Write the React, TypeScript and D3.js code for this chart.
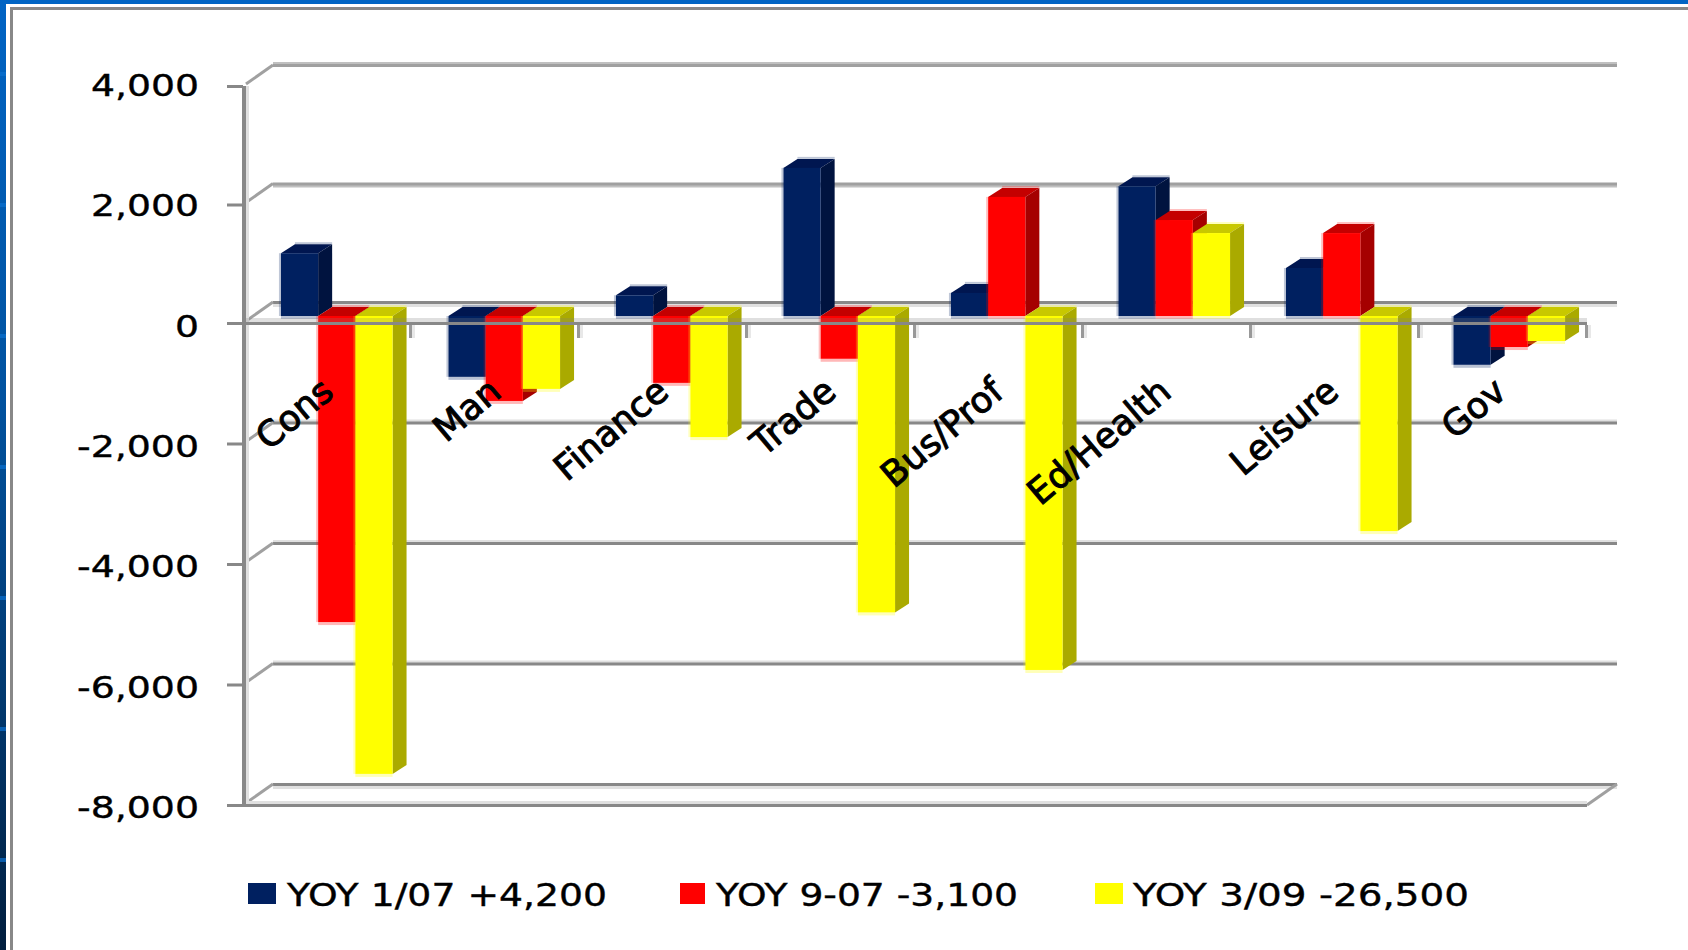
import React from "react";
import * as d3 from "d3";

const categories = ["Cons", "Man", "Finance", "Trade", "Bus/Prof", "Ed/Health", "Leisure", "Gov"];
const yoy107 = [1060, -1010, 350, 2500, 390, 2190, 810, -810];
const yoy907 = [-5080, -1410, -1110, -710, 2010, 1620, 1400, -515];
const yoy309 = [-7600, -1210, -2010, -4920, -5875, 1400, -3570, -415];
const seriesNames = ["YOY 1/07 +4,200", "YOY 9-07 -3,100", "YOY 3/09 -26,500"];
const yTicks = [4000, 2000, 0, -2000, -4000, -6000, -8000];
const stripeRows = [0, 1, 2, 3, 4, 5, 6, 7];

const palettes = [
  { front: "#002060", side: "#00133f", top: "#001650" },
  { front: "#ff0000", side: "#a50000", top: "#c40000" },
  { front: "#ffff00", side: "#aaaa00", top: "#c8c800" },
];
const seriesValues = [yoy107, yoy907, yoy309];

const FONT = "'DejaVu Sans', sans-serif";
const axisLeft = 243;
const axisRight = 1587;
const wallDx = 30;
const wallDy = -21;
const barDx = 10;
const barDy = -7;
const depthX = 14;
const depthY = -9;
const barWidth = 37.2;

const y = d3.scaleLinear().domain([-8000, 0, 4000]).range([805, 323, 86]);
const yLabel = d3.scaleLinear().domain([4000, -8000]).range([96, 818]);
const xBand = d3.scaleBand<string>().domain(categories).range([axisLeft, 1583]);
const xTick = d3.scaleBand<string>().domain(categories).range([axisLeft, axisRight]);
const xSeries = d3
  .scaleBand<number>()
  .domain([0, 1, 2])
  .range([0, barWidth * 3]);
const fmt = (v: number) => d3.format(",")(v).replace("\u2212", "-");

const legendLayout = [
  { sx: 248, sw: 28, tx: 287, tl: 320 },
  { sx: 680, sw: 25, tx: 716, tl: 302 },
  { sx: 1095, sw: 28, tx: 1133, tl: 336 },
];

function poly(points: [number, number][]) {
  return (d3.line()(points) || "") + "Z";
}

function Bar({ cat, s, value }: { cat: string; s: number; value: number }) {
  const p = palettes[s];
  const groupWidth = barWidth * 3;
  const x0 = (xBand(cat) as number) + (xBand.bandwidth() - groupWidth) / 2 + barDx + (xSeries(s) as number);
  const x1 = x0 + barWidth;
  const y0 = y(0) + barDy;
  const yv = y(value) + barDy;
  const top = Math.min(y0, yv);
  const bot = Math.max(y0, yv);
  return (
    <g>
      <rect x={x0} y={bot} width={barWidth} height={3} fill={p.front} opacity={0.28} />
      <path d={poly([[x0, top], [x0 + depthX, top + depthY], [x1 + depthX, top + depthY], [x1, top]])} fill={p.top} />
      <rect x={x0 + depthX} y={top + depthY - 2} width={barWidth} height={2} fill={p.front} opacity={0.25} />
      <path d={poly([[x1, top], [x1 + depthX, top + depthY], [x1 + depthX, bot + depthY], [x1, bot]])} fill={p.side} />
      <rect x={x0} y={top} width={barWidth} height={bot - top} fill={p.front} />
      <rect x={x0 - 2} y={top} width={2} height={bot - top} fill={p.front} opacity={0.25} />
    </g>
  );
}

export default function App() {
  return (
    <svg width={1688} height={950} style={{ position: "fixed", left: 0, top: 0, background: "#fff" }}>
      <defs>
        <linearGradient id="edge" x1="0" y1="0" x2="0" y2="1">
          <stop offset="0" stopColor="#0064c4" />
          <stop offset="0.42" stopColor="#00529f" />
          <stop offset="0.74" stopColor="#00386e" />
          <stop offset="1" stopColor="#001e3e" />
        </linearGradient>
      </defs>
      <rect x={0} y={0} width={1688} height={4} fill="#0064c4" />
      <rect x={0} y={0} width={6} height={950} fill="url(#edge)" />
      {stripeRows.map((i) => (
        <rect key={i} x={0} y={72 + i * 131} width={6} height={4} fill="#0a70d0" opacity={0.7} />
      ))}
      <rect x={10} y={7} width={1678} height={3} fill="#888" />
      <rect x={10} y={7} width={3} height={943} fill="#888" />

      {/* back wall grid */}
      {yTicks.map((t) => {
        const by = y(t) + wallDy;
        const upper = t > 0;
        const zero = t === 0;
        const dark = upper ? "#a0a0a0" : "#888";
        const pale = upper ? "#c0c0c0" : "#e0e0e0";
        const paleAbove = t === 4000 || (t < 0 && t > -8000);
        return (
          <g key={t}>
            <rect x={axisLeft + wallDx} y={paleAbove ? by - 3 : by + 1} width={axisRight - axisLeft} height={zero || t === -8000 ? 4 : 3} fill={pale} />
            <rect x={axisLeft + wallDx} y={by - 1} width={axisRight - axisLeft} height={3} fill={dark} />
            <line x1={axisLeft + 3} y1={y(t) - 2} x2={axisLeft + wallDx} y2={by} stroke="#a0a0a0" strokeWidth={3} />
          </g>
        );
      })}
      <line x1={axisRight} y1={y(-8000)} x2={axisRight + wallDx} y2={y(-8000) + wallDy} stroke="#a0a0a0" strokeWidth={3} />

      {/* left wall */}
      <rect x={axisLeft + 3} y={y(4000)} width={3} height={y(-8000) - y(4000)} fill="#e0e0e0" />
      <rect x={axisLeft - 1} y={y(4000)} width={4} height={y(-8000) - y(4000) + 1} fill="#888" />

      {/* bottom floor front edge */}
      <rect x={axisLeft + 3} y={y(-8000) - 4} width={axisRight - axisLeft - 3} height={3} fill="#e0e0e0" />
      <rect x={axisLeft - 16} y={y(-8000) - 1} width={axisRight - axisLeft + 16} height={3} fill="#888" />

      {/* value axis ticks */}
      {yTicks.map((t) => (
        <rect key={t} x={axisLeft - 16} y={y(t) - 1} width={16} height={3} fill="#888" />
      ))}

      {/* bars */}
      {categories.map((c, i) => (
        <g key={c}>
          {seriesValues.map((vals, s) => (
            <Bar key={s} cat={c} s={s} value={vals[i]} />
          ))}
        </g>
      ))}

      {/* zero line over bars */}
      <rect x={axisLeft + 3} y={y(0) - 5} width={axisRight - axisLeft - 3} height={4} fill="#808080" opacity={0.25} />
      <rect x={axisLeft - 16} y={y(0) - 1} width={axisRight - axisLeft + 16} height={3} fill="#888" />
      {categories.map((c) => (
        <g key={c}>
          <rect x={(xTick(c) as number) + xTick.bandwidth() - 2} y={y(0) + 2} width={3} height={13} fill="#999" />
          <rect x={(xTick(c) as number) + xTick.bandwidth() + 1} y={y(0) + 2} width={3} height={13} fill="#e8e8e8" />
        </g>
      ))}

      {/* value labels */}
      {yTicks.map((t) => (
        <text
          key={t}
          x={199}
          y={yLabel(t)}
          textAnchor="end"
          fontFamily={FONT}
          fontSize={31}
          fill="#000"
          stroke="#000"
          strokeWidth={0.4}
          textLength={t === 0 ? 24 : t > 0 ? 108 : 122}
          lengthAdjust="spacingAndGlyphs"
        >
          {fmt(t)}
        </text>
      ))}

      {/* category labels */}
      {categories.map((c) => {
        const cx = (xBand(c) as number) + xBand.bandwidth() / 2 + 9;
        const cy = 395;
        return (
          <text
            key={c}
            transform={`translate(${cx},${cy}) rotate(-40)`}
            textAnchor="end"
            fontFamily={FONT}
            fontSize={35.5}
            fill="#000"
            stroke="#000"
            strokeWidth={1}
          >
            {c}
          </text>
        );
      })}

      {/* legend */}
      {seriesNames.map((n, i) => (
        <g key={n}>
          <rect x={legendLayout[i].sx} y={883} width={legendLayout[i].sw} height={21} fill={palettes[i].front} />
          <text
            x={legendLayout[i].tx}
            y={906}
            fontFamily={FONT}
            fontSize={32}
            fill="#000"
            stroke="#000"
            strokeWidth={0.4}
            textLength={legendLayout[i].tl}
            lengthAdjust="spacingAndGlyphs"
          >
            {n}
          </text>
        </g>
      ))}
    </svg>
  );
}
